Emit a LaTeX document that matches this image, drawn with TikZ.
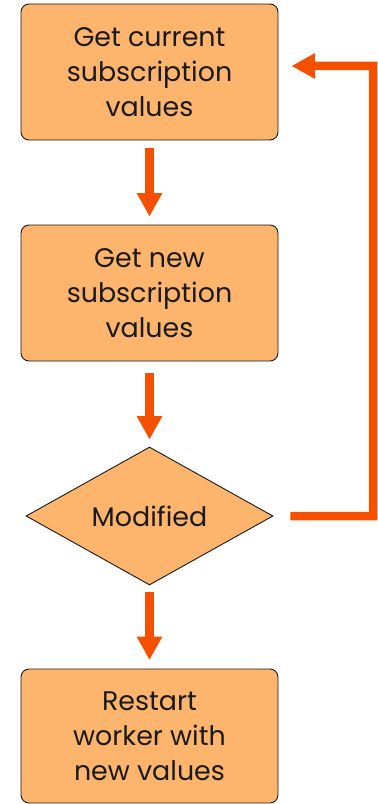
\documentclass[tikz,border=0pt]{standalone}
\usepackage{fontspec}
\setmainfont{Poppins}
\usetikzlibrary{arrows.meta,shapes.geometric}
\definecolor{boxfill}{RGB}{253,180,108}
\definecolor{flow}{RGB}{245,80,0}
\definecolor{ink}{RGB}{26,26,26}
\begin{document}
\begin{tikzpicture}[x=1bp,y=-1bp,
  stepbox/.style={draw=ink,line width=0.9bp,fill=boxfill,rounded corners=8bp,
    minimum width=257bp,inner sep=0pt,align=center,text=ink,
    font=\fontsize{27}{35}\selectfont},
  choice/.style={diamond,draw=ink,line width=0.9bp,fill=boxfill,inner sep=0pt,
    minimum width=247bp,minimum height=138bp,text=ink,
    font=\fontsize{27}{35}\selectfont},
  flowarrow/.style={draw=flow,line width=8.5bp,
    -{Triangle[width=24bp,length=23.5bp]}}]
\useasboundingbox (0,0) rectangle (377,804);
\node[stepbox,minimum height=136bp] (get) at (149.5,72) {Get current\\subscription\\values};
\node[stepbox,minimum height=136bp] (new) at (149.5,293) {Get new\\subscription\\values};
\node[choice] (mod) at (149.5,516) {Modified};
\node[stepbox,minimum height=134bp] (restart) at (149.5,736) {Restart\\worker with\\new values};
\draw[flowarrow] ([yshift=-8bp]get.south) -- ([yshift=8bp]new.north);
\draw[flowarrow] ([yshift=-12bp]new.south) -- ([yshift=7bp]mod.north);
\draw[flowarrow] ([yshift=-7bp]mod.south) -- ([yshift=8.5bp]restart.north);
\coordinate (loop) at (373,66);
\draw[flowarrow] ([xshift=17bp]mod.east) -- (mod.east -| loop) -- (loop)
  -- ([xshift=13bp,yshift=6bp]get.east);
\end{tikzpicture}
\end{document}
